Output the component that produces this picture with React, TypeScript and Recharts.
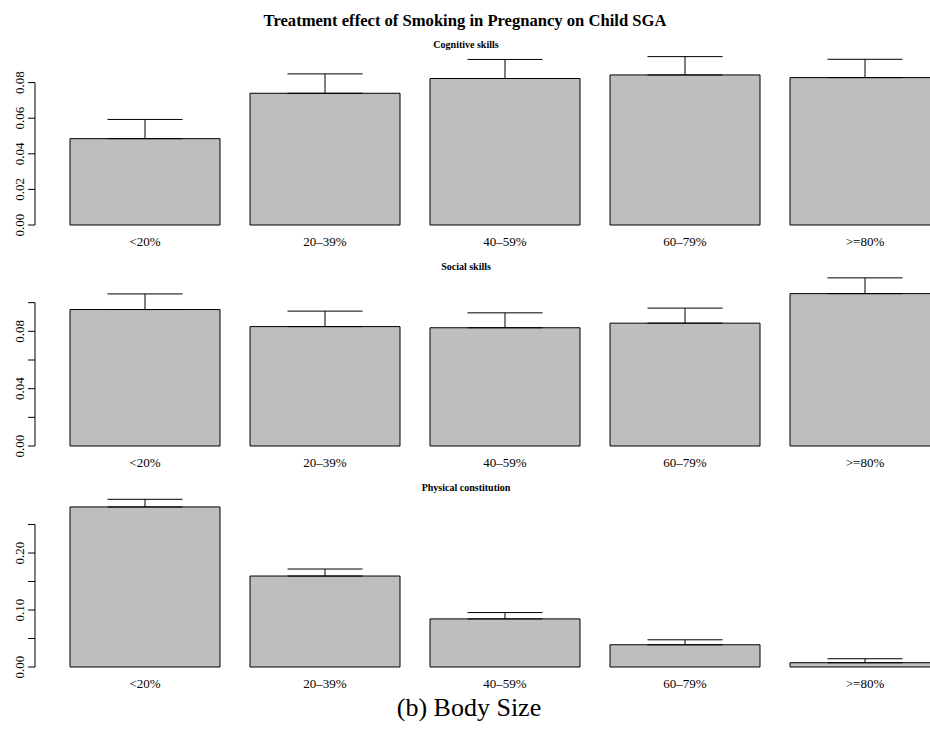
import { BarChart, Bar, XAxis, YAxis, ErrorBar } from 'recharts'

// Body size groups (share of SGA)
const groups = ['<20%', '20–39%', '40–59%', '60–79%', '>=80%']

// Cognitive skills
const cognitiveEffect = [0.0485, 0.074, 0.0823, 0.0843, 0.0828]
const cognitiveUpper = [0.0593, 0.0849, 0.093, 0.0946, 0.0931]
const cognitiveTicks = [0, 0.02, 0.04, 0.06, 0.08]
const cognitiveLabels = [0, 0.02, 0.04, 0.06, 0.08]

// Social skills
const socialEffect = [0.0952, 0.0833, 0.0825, 0.0857, 0.1063]
const socialUpper = [0.1061, 0.0941, 0.0929, 0.0962, 0.1173]
const socialTicks = [0, 0.02, 0.04, 0.06, 0.08, 0.1]
const socialLabels = [0, 0.04, 0.08]

// Physical constitution
const physicalEffect = [0.2808, 0.1596, 0.0844, 0.039, 0.0075]
const physicalUpper = [0.2942, 0.1719, 0.0955, 0.0477, 0.0145]
const physicalTicks = [0, 0.05, 0.1, 0.15, 0.2, 0.25]
const physicalLabels = [0, 0.1, 0.2]

const serif = '"Liberation Serif", "Times New Roman", serif'

const toRows = (effect: number[], upper: number[]) =>
  groups.map((g, i) => ({ group: g, effect: effect[i], err: [0, upper[i] - effect[i]] }))

// R style y axis: line only from first to last tick, rotated labels
const YTick = (props: any) => {
  const { x, y, payload, height, labels, topTick, domainMax } = props
  const v = payload.value
  const showLabel = labels.some((l: number) => Math.abs(l - v) < 1e-9)
  return (
    <g>
      {v === 0 && height ? (
        <line x1={x} x2={x} y1={y} y2={y - (height * topTick) / domainMax} stroke="#000" strokeWidth={1} />
      ) : null}
      <line x1={x - 7} x2={x} y1={y} y2={y} stroke="#000" strokeWidth={1} />
      {showLabel && (
        <text
          x={x - 11}
          y={y}
          transform={`rotate(-90 ${x - 11} ${y})`}
          textAnchor="middle"
          fontFamily={serif}
          fontSize={13}
          fill="#000"
        >
          {v.toFixed(2)}
        </text>
      )}
    </g>
  )
}

const XTick = (props: any) => {
  const { x, y, payload } = props
  return (
    <text x={x} y={y} dy="0.71em" textAnchor="middle" fontFamily={serif} fontSize={13} fill="#000">
      {payload.value}
    </text>
  )
}

interface PanelProps {
  top: number
  plotH: number
  data: any[]
  ticks: number[]
  labels: number[]
  domainMax: number
}

function Panel({ top, plotH, data, ticks, labels, domainMax }: PanelProps) {
  return (
    <div style={{ position: 'absolute', left: 0, top }}>
      <BarChart
        width={955}
        height={10 + plotH + 30}
        data={data}
        margin={{ top: 10, right: 0, bottom: 0, left: 0 }}
        barCategoryGap={15}
      >
        <XAxis
          dataKey="group"
          interval={0}
          axisLine={false}
          tickLine={false}
          tickSize={0}
          tickMargin={12}
          height={30}
          padding={{ left: 20, right: 0 }}
          tick={<XTick />}
        />
        <YAxis
          width={35}
          domain={[0, domainMax]}
          ticks={ticks}
          interval={0}
          axisLine={false}
          tickLine={false}
          tickSize={0}
          tickMargin={0}
          tick={(p: any) => (
            <YTick {...p} labels={labels} topTick={ticks[ticks.length - 1]} domainMax={domainMax} />
          )}
        />
        <Bar dataKey="effect" fill="#BEBEBE" stroke="#000" strokeWidth={1} isAnimationActive={false}>
          <ErrorBar dataKey="err" width={37.5} stroke="#000" strokeWidth={1} direction="y" />
        </Bar>
      </BarChart>
    </div>
  )
}

export default function App() {
  return (
    <div
      style={{
        position: 'absolute',
        left: 0,
        top: 0,
        width: 930,
        height: 731,
        overflow: 'hidden',
        background: '#fff',
      }}
    >
      <Panel top={37} plotH={178} data={toRows(cognitiveEffect, cognitiveUpper)} ticks={cognitiveTicks} labels={cognitiveLabels} domainMax={0.1} />
      <Panel top={264} plotH={172} data={toRows(socialEffect, socialUpper)} ticks={socialTicks} labels={socialLabels} domainMax={0.12} />
      <Panel top={486} plotH={171} data={toRows(physicalEffect, physicalUpper)} ticks={physicalTicks} labels={physicalLabels} domainMax={0.3} />
      <svg width={930} height={731} style={{ position: 'absolute', left: 0, top: 0, pointerEvents: 'none' }}>
        <text x={465} y={26} textAnchor="middle" fontFamily={serif} fontWeight="bold" fontSize={16.6} fill="#000">
          Treatment effect of Smoking in Pregnancy on Child SGA
        </text>
        <text x={466} y={48} textAnchor="middle" fontFamily={serif} fontWeight="bold" fontSize={10} fill="#000">
          Cognitive skills
        </text>
        <text x={466} y={270} textAnchor="middle" fontFamily={serif} fontWeight="bold" fontSize={10} fill="#000">
          Social skills
        </text>
        <text x={466} y={491} textAnchor="middle" fontFamily={serif} fontWeight="bold" fontSize={10} fill="#000">
          Physical constitution
        </text>
        <text x={469} y={716} textAnchor="middle" fontFamily={serif} fontSize={26} fill="#000">
          (b) Body Size
        </text>
      </svg>
    </div>
  )
}
